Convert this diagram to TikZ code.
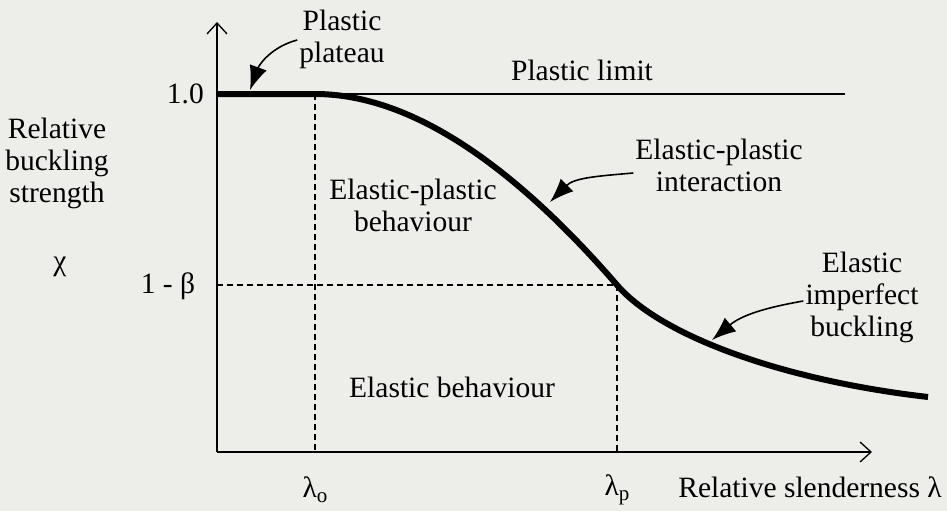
\documentclass[tikz,border=0pt]{standalone}
\usepackage{fontspec}
\setmainfont{Liberation Serif}
\usetikzlibrary{arrows.meta}
\definecolor{paper}{RGB}{237,237,233}

\begin{document}
\begin{tikzpicture}[x=1pt,y=-1pt,
  lbl/.style={font=\fontsize{29.5}{32}\selectfont, align=center, inner sep=2pt},
  note/.style={line width=1.6pt, -{Latex[length=24pt,width=18pt]}},
  axis/.style={line width=1.3pt, -{Straight Barb[length=11pt,width=20pt]}},
  guide/.style={line width=1.1pt, dash pattern=on 6pt off 4pt}]
\fill[paper] (0,0) rectangle (947,511);
\useasboundingbox (0,0) rectangle (947,511);
% axes
\coordinate (o) at (217,452);
\coordinate (ytop) at (217,22);
\coordinate (xend) at (872,452);
\coordinate (lo) at (315,94);
\coordinate (lp) at (617,285);
\coordinate (lim) at (845,94);
\draw[axis] (o)--(ytop);
\draw[axis] (o)--(xend);
\draw[line width=2pt] (o |- lo)--(lim);
\draw[guide] (lo)--(lo |- o);
\draw[guide] (o |- lp)--(lp)--(lp |- o);
% strength curve
\draw[line width=6pt] (o |- lo)--(lo)
  .. controls (400,94) and (500,150) .. (lp)
  .. controls (660,335) and (780,380) .. (928,397);
% tick labels
\newcommand{\sub}[1]{\raisebox{-0.4ex}{\fontsize{21}{21}\selectfont #1}}
\node[lbl, anchor=east] (one) at (206,94) {1.0};
\node[lbl] (beta) at (168,286) {1 - β};
\node[lbl] (chi) at (60,267) {χ};
\node[lbl] (ylab) at (57,163) {Relative\\buckling\\strength};
\node[lbl] (lamo) at (lo |- 0,490) {λ\sub{o}};
\node[lbl] (lamp) at (lp |- 0,490) {λ\sub{p}};
\node[lbl] (xlab) at (810,487) {Relative slenderness λ};
% region labels
\node[lbl] (limit) at (582,70) {Plastic limit};
\node[lbl] (epb) at (413,205) {Elastic-plastic\\behaviour};
\node[lbl] (eb) at (452,387) {Elastic behaviour};
\node[lbl] (plat) at (342,39) {Plastic\\plateau};
\node[lbl] (inter) at (719,165) {Elastic-plastic\\interaction};
\node[lbl] (imp) at (862,297) {Elastic\\imperfect\\buckling};
% pointers
\coordinate (platTip) at (250,90);
\coordinate (interTip) at (550,202);
\coordinate (impTip) at (712,340);
\draw[note] ([yshift=-1pt]plat.west) to[out=195,in=70] (platTip);
\draw[note] ([yshift=-8pt]inter.west) to[out=185,in=45] (interTip);
\draw[note] ([yshift=-4pt]imp.west) to[out=190,in=40] (impTip);
\end{tikzpicture}
\end{document}
